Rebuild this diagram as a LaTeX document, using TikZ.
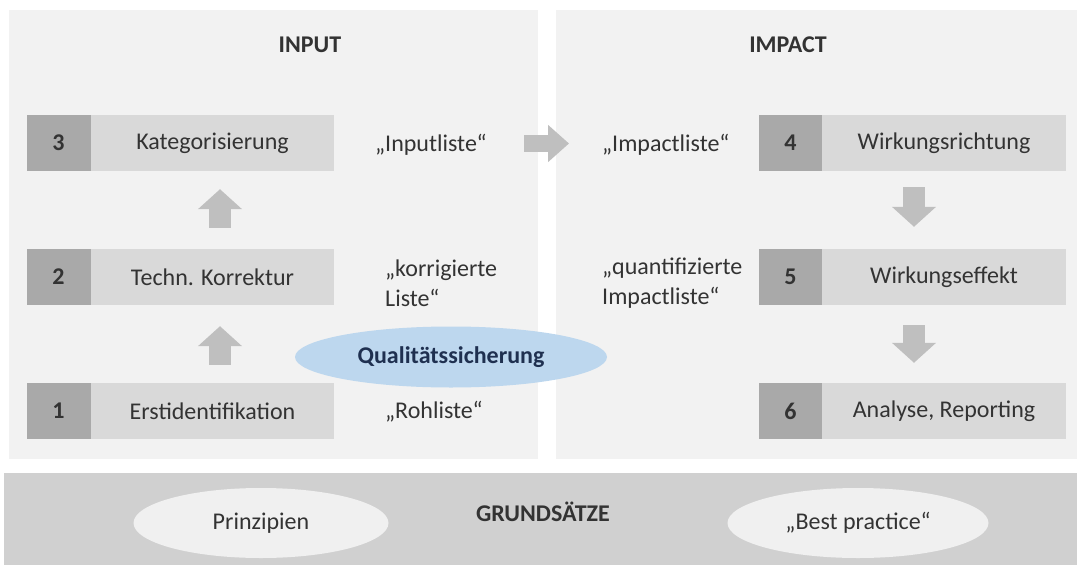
\documentclass[tikz,border=0pt]{standalone}
\usepackage{fontspec}
\setmainfont{Carlito}
\usetikzlibrary{arrows.meta,shapes.geometric}
\definecolor{panel}{HTML}{F2F2F2}
\definecolor{boxlight}{HTML}{D9D9D9}
\definecolor{boxdark}{HTML}{A9A9A9}
\definecolor{arrowgray}{HTML}{BFBFBF}
\definecolor{band}{HTML}{D0D0D0}
\definecolor{ellfill}{HTML}{F0F0F0}
\definecolor{qsfill}{HTML}{BDD7EE}
\definecolor{qstext}{HTML}{1F3050}
\definecolor{txtcol}{HTML}{333333}
\begin{document}
\begin{tikzpicture}[x=1pt,y=-1pt,
  basefont/.style={font=\fontsize{24}{30}\selectfont},
  plain/.style={basefont, text=txtcol, inner sep=0pt},
  title/.style={plain, font=\fontsize{24}{30}\selectfont\bfseries},
  numbox/.style={fill=boxdark, minimum width=64pt, minimum height=56pt, inner sep=0pt,
    text=txtcol, font=\fontsize{24}{30}\selectfont\bfseries},
  stepbox/.style={fill=boxlight, minimum height=56pt, inner sep=0pt, text=txtcol, basefont},
  blockarrow/.style={draw=arrowgray, line width=22pt, -{Triangle[length=20pt,width=43pt]}},
  oval/.style={ellipse, fill=ellfill, inner sep=0pt, minimum height=70pt, text=txtcol, basefont}
]
\useasboundingbox (0,0) rectangle (1077,565);
% panels
\fill[panel] (9,10) rectangle (538,459);
\fill[panel] (556,10) rectangle (1077,459);
\fill[band] (4,473) rectangle (1077,565);

% titles
\node[title] (tin) at (310,45) {INPUT};
\node[title] (timp) at (788,45) {IMPACT};
\node[title] (tgr) at (543,512) {GRUNDSÄTZE};

% left boxes
\node[numbox] (n3) at (58.5,143) {3};
\node[stepbox, minimum width=243pt] (b3) at (212.5,143) {Kategorisierung};
\node[numbox] (n2) at (58.5,277) {2};
\node[stepbox, minimum width=243pt] (b2) at (212.5,277) {Techn. Korrektur};
\node[numbox] (n1) at (58.5,411) {1};
\node[stepbox, minimum width=243pt] (b1) at (212.5,411) {Erstidentifikation};

% right boxes
\node[numbox, minimum width=63pt] (n4) at (790.5,143) {4};
\node[stepbox, minimum width=244pt] (b4) at (944,143) {Wirkungsrichtung};
\node[numbox, minimum width=63pt] (n5) at (790.5,277) {5};
\node[stepbox, minimum width=244pt] (b5) at (944,277) {Wirkungseffekt};
\node[numbox, minimum width=63pt] (n6) at (790.5,411) {6};
\node[stepbox, minimum width=244pt] (b6) at (944,411) {Analyse, Reporting};

% list labels
\node[plain] (inl) at (431,145) {„Inputliste“};
\node[plain, anchor=west, align=left] (korr) at (385,283) {„korrigierte\\Liste“};
\node[plain, anchor=west] (roh) at (385,412) {„Rohliste“};
\node[plain, anchor=west] (impl) at (602,145) {„Impactliste“};
\node[plain, anchor=west, align=left] (quant) at (602,283) {„quantifizierte\\Impactliste“};

% quality assurance
\node[ellipse, fill=qsfill, minimum width=312pt, minimum height=61pt, inner sep=0pt,
  text=qstext, font=\fontsize{24}{30}\selectfont\bfseries] (qs) at (451,357) {Qualitätssicherung};

% principles
\node[oval, minimum width=255pt] (prin) at (261,523) {Prinzipien};
\node[oval, minimum width=261pt] (best) at (858,523) {„Best practice“};

% arrows
\draw[blockarrow, shorten <=21pt, shorten >=18pt] ([xshift=7.5pt]b2.north) -- ([xshift=7.5pt]b3.south);
\draw[blockarrow, shorten <=18pt, shorten >=21pt] ([xshift=7.5pt]b1.north) -- ([xshift=7.5pt]b2.south);
\draw[blockarrow, shorten <=16pt, shorten >=22pt] ([xshift=-30pt]b4.south) -- ([xshift=-30pt]b5.north);
\draw[blockarrow, shorten <=20pt, shorten >=20pt] ([xshift=-30pt]b5.south) -- ([xshift=-30pt]b6.north);
\draw[draw=arrowgray, line width=17pt, -{Triangle[length=21pt,width=36pt]}, shorten <=37pt, shorten >=33pt]
  ([yshift=1.5pt]inl.east) -- ([yshift=1.5pt]impl.west);
\end{tikzpicture}
\end{document}
